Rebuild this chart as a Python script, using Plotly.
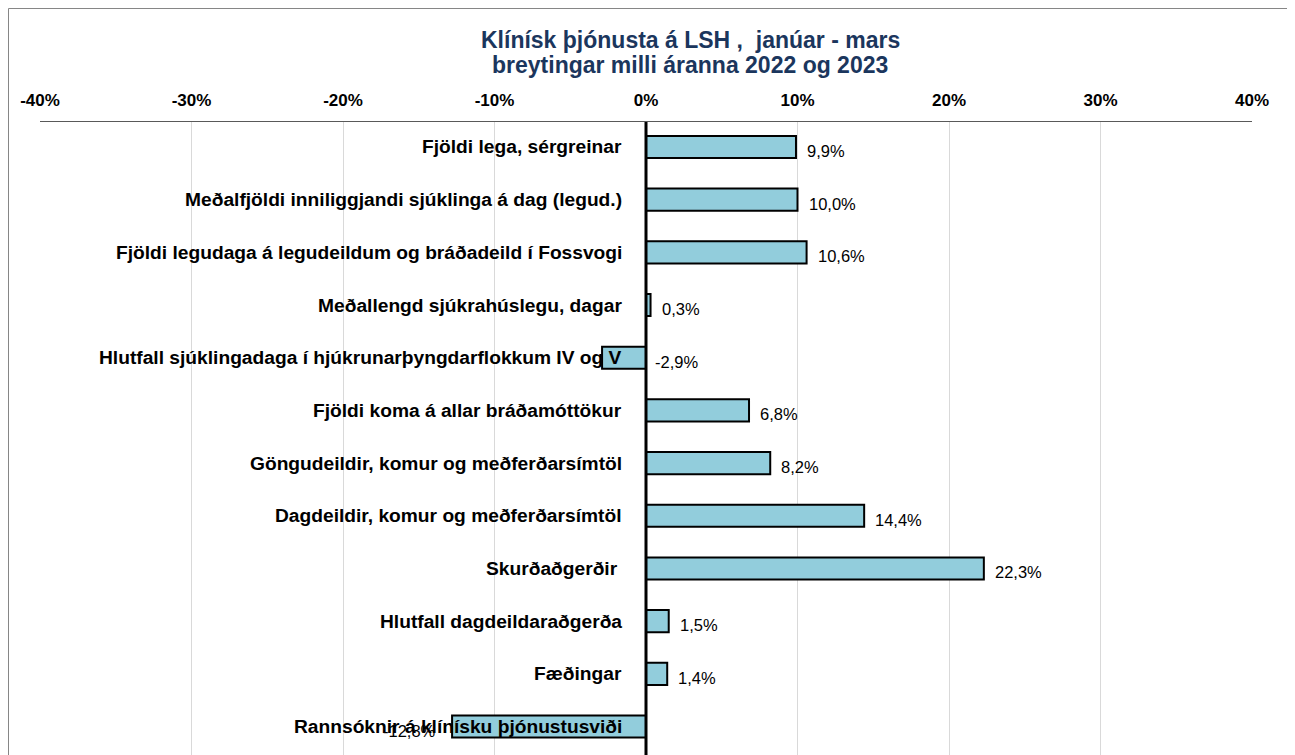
import plotly.graph_objects as go

categories = [
    "Fjöldi lega, sérgreinar",
    "Meðalfjöldi inniliggjandi sjúklinga á dag (legud.)",
    "Fjöldi legudaga á legudeildum og bráðadeild í Fossvogi",
    "Meðallengd sjúkrahúslegu, dagar",
    "Hlutfall sjúklingadaga í hjúkrunarþyngdarflokkum IV og V",
    "Fjöldi koma á allar bráðamóttökur",
    "Göngudeildir, komur og meðferðarsímtöl",
    "Dagdeildir, komur og meðferðarsímtöl",
    "Skurðaðgerðir ",
    "Hlutfall dagdeildaraðgerða",
    "Fæðingar",
    "Rannsóknir á klínísku þjónustusviði",
]
changes = [9.9, 10.0, 10.6, 0.3, -2.9, 6.8, 8.2, 14.4, 22.3, 1.5, 1.4, -12.8]
tick_vals = [-40, -30, -20, -10, 0, 10, 20, 30, 40]
tick_text = ["-40%", "-30%", "-20%", "-10%", "0%", "10%", "20%", "30%", "40%"]
title_lines = ["Klínísk þjónusta á LSH ,  janúar - mars", "breytingar milli áranna 2022 og 2023"]

W, H = 1295, 755
ML, MR, MT, MB = 32, 51, 114, 8
PW, PH = W - ML - MR, H - MT - MB

FONT = "Liberation Sans, Arial, sans-serif"
ypos = list(range(len(categories)))

fig = go.Figure()
fig.add_trace(go.Bar(
    x=changes, y=ypos, orientation="h", width=0.42,
    marker=dict(color="#92CDDC", line=dict(color="black", width=2)),
    hoverinfo="skip",
))

annotations = []
for i, (c, v) in enumerate(zip(categories, changes)):
    annotations.append(dict(
        x=0, y=i, xref="x", yref="y", text="<b>%s</b>" % c, showarrow=False,
        xanchor="right", xshift=-22, font=dict(family=FONT, size=19.2, color="black"),
    ))
    lab = ("%.1f" % v).replace(".", ",") + "%"
    if v >= 0:
        ax, anc, sh = v, "left", 9
    elif v > -5:
        ax, anc, sh = 0, "left", 7
    else:
        ax, anc, sh = v, "right", -14
    annotations.append(dict(
        x=ax, y=i, xref="x", yref="y", text=lab, showarrow=False,
        xanchor=anc, xshift=sh, yshift=-4, font=dict(family=FONT, size=16.5, color="black"),
    ))

# title lines (positions in figure pixels converted to paper coords)
for txt, cy in zip(title_lines, [32, 57]):
    annotations.append(dict(
        x=(682 - ML) / PW, y=(H - MB - cy) / PH, xref="paper", yref="paper",
        text="<b>%s</b>" % txt, showarrow=False, xanchor="center", yanchor="middle",
        font=dict(family=FONT, size=23, color="#1B365D"),
    ))

shapes = [
    dict(type="line", xref="x", yref="paper", x0=0, x1=0, y0=0, y1=1,
         line=dict(color="black", width=3), layer="above"),
    dict(type="rect", xref="paper", yref="paper",
         x0=(0.5 - ML) / PW, x1=(1283 - ML) / PW, y0=-0.2, y1=(H - MB - 0.5) / PH,
         line=dict(color="#868686", width=1), fillcolor="rgba(0,0,0,0)", layer="below"),
]

fig.update_layout(
    width=W, height=H,
    margin=dict(l=ML, r=MR, t=MT, b=MB),
    paper_bgcolor="white", plot_bgcolor="white",
    showlegend=False,
    xaxis=dict(
        side="top", range=[-40, 40], tickvals=tick_vals, ticktext=tick_text,
        tickfont=dict(family=FONT, size=17, color="black", weight="bold"),
        showgrid=True, gridcolor="#D9D9D9", gridwidth=1,
        zeroline=False, showline=True, linecolor="#595959", linewidth=1,
        ticks="outside", ticklen=8, tickcolor="rgba(0,0,0,0)",
    ),
    yaxis=dict(
        range=[11.54, -0.474], showticklabels=False, showgrid=False,
        zeroline=False, showline=False,
    ),
    annotations=annotations,
    shapes=shapes,
)

fig.write_html("out.html")
